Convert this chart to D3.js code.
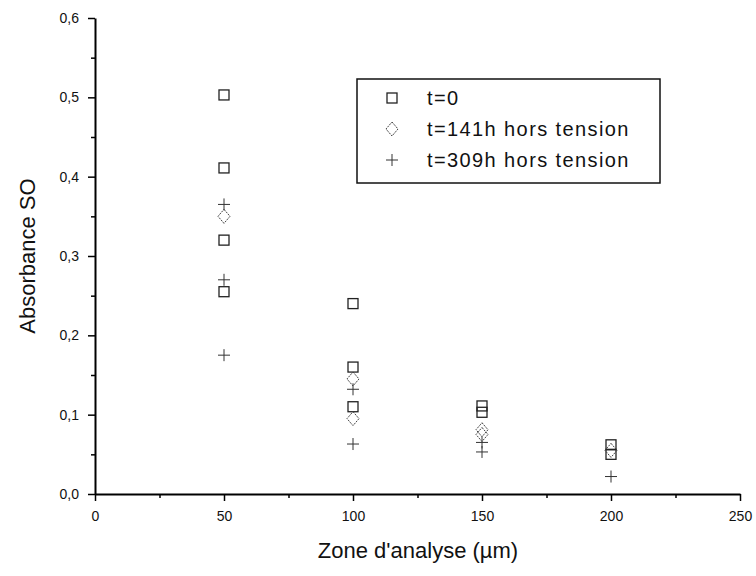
<!DOCTYPE html>
<html><head><meta charset="utf-8">
<script src="https://cdn.jsdelivr.net/npm/d3@7"></script>
<style>body{margin:0;background:#fff}svg{display:block}text{font-family:"Liberation Sans",Arial,sans-serif;fill:#111}</style>
</head><body><svg id="c" width="756" height="576"></svg>
<script>
const seriesNames = ["t=0", "t=141h hors tension", "t=309h hors tension"];
const symbols = ["square", "diamond", "cross"];
const x0 = [50, 50, 50, 50, 100, 100, 100, 150, 150, 200, 200];
const y0 = [0.503, 0.411, 0.320, 0.255, 0.240, 0.160, 0.110, 0.111, 0.103, 0.062, 0.050];
const x1 = [50, 100, 100, 150, 150, 200];
const y1 = [0.350, 0.145, 0.095, 0.081, 0.075, 0.055];
const x2 = [50, 50, 50, 100, 100, 150, 150, 200];
const y2 = [0.365, 0.270, 0.175, 0.132, 0.063, 0.065, 0.053, 0.022];
const xTicks = [0, 50, 100, 150, 200, 250];
const yTicks = [0, 0.1, 0.2, 0.3, 0.4, 0.5, 0.6];
const yTickLabels = ["0,0", "0,1", "0,2", "0,3", "0,4", "0,5", "0,6"];

const svg = d3.select("#c");
const x = d3.scaleLinear().domain([0, 250]).range([95, 740]);
const y = d3.scaleLinear().domain([0, 0.6]).range([494, 18]);

const gx = svg.append("g").attr("transform", "translate(0,494)");
gx.call(d3.axisBottom(x).tickValues(d3.range(25, 250, 50)).tickSize(4).tickFormat(""));
gx.call(g => g.select(".domain").remove());
const gxM = svg.append("g").attr("transform", "translate(0,494)")
  .call(d3.axisBottom(x).tickValues(xTicks).tickSize(7).tickSizeOuter(0).tickPadding(10).tickFormat(d3.format("d")));
gxM.selectAll("text").style("font-size", "14px").style("font-family", "'Liberation Sans',Arial,sans-serif");
gxM.select(".domain").attr("stroke-width", 2);

const gy = svg.append("g").attr("transform", "translate(95,0)");
gy.call(d3.axisLeft(y).tickValues(d3.range(0.05, 0.6, 0.1)).tickSize(4).tickFormat(""));
gy.call(g => g.select(".domain").remove());
const gyM = svg.append("g").attr("transform", "translate(95,0)")
  .call(d3.axisLeft(y).tickValues(yTicks).tickSize(7).tickSizeOuter(0).tickPadding(9).tickFormat((d, i) => yTickLabels[i]));
gyM.selectAll("text").style("font-size", "14px").style("font-family", "'Liberation Sans',Arial,sans-serif");
gyM.select(".domain").attr("stroke-width", 2);
svg.selectAll(".tick line").attr("stroke-width", 1.5);

svg.append("text").attr("x", 418).attr("y", 558).attr("text-anchor", "middle")
  .style("font-size", "22px").text("Zone d'analyse (µm)");
svg.append("text").attr("transform", "translate(35,256) rotate(-90)").attr("text-anchor", "middle")
  .style("font-size", "22px").text("Absorbance SO");

function drawSym(g, type, cx, cy) {
  if (type === "square") {
    g.append("rect").attr("x", cx - 5).attr("y", cy - 5).attr("width", 10).attr("height", 10)
      .attr("fill", "none").attr("stroke", "#222").attr("stroke-width", 1.3);
  } else if (type === "diamond") {
    g.append("path").attr("d", `M${cx},${cy - 7}L${cx + 6},${cy}L${cx},${cy + 7}L${cx - 6},${cy}Z`)
      .attr("fill", "none").attr("stroke", "#444").attr("stroke-width", 1).attr("stroke-dasharray", "2,1");
  } else {
    g.append("path").attr("d", `M${cx - 6},${cy}H${cx + 6}M${cx},${cy - 6}V${cy + 6}`)
      .attr("fill", "none").attr("stroke", "#333").attr("stroke-width", 1);
  }
}

const data = [[x0, y0], [x1, y1], [x2, y2]];
const pg = svg.append("g");
data.forEach(([xs, ys], s) => {
  xs.forEach((xv, i) => drawSym(pg, symbols[s], x(xv), y(ys[i])));
});

const lg = svg.append("g");
lg.append("rect").attr("x", 357).attr("y", 79).attr("width", 303).attr("height", 104)
  .attr("fill", "#fff").attr("stroke", "#111").attr("stroke-width", 1.5);
seriesNames.forEach((n, i) => {
  const cy = 98 + i * 31;
  drawSym(lg, symbols[i], 392, cy);
  lg.append("text").attr("x", 427).attr("y", cy + 7).style("font-size", "20px")
    .style("letter-spacing", "1.4px").text(n);
});
</script></body></html>
